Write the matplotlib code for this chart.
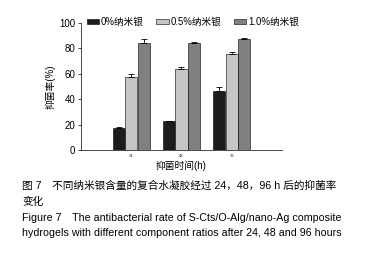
import numpy as np
import matplotlib.pyplot as plt

plt.rcParams['font.family'] = ['Liberation Sans', 'Noto Sans CJK SC', 'DejaVu Sans']

# data
times = ['24', '48', '96']
groups = ['0%纳米银', '0.5%纳米银', '1.0%纳米银']
rate_0 = [17.5, 22.5, 46.7]
rate_05 = [57.5, 63.5, 75.3]
rate_10 = [84.0, 84.5, 87.4]
err_0 = [0.5, 0.5, 2.7]
err_05 = [2.7, 2.0, 1.5]
err_10 = [3.0, 0.5, 0.5]
colors = ['#1c1c1c', '#c6c6c6', '#808080']

fig = plt.figure(figsize=(3.7, 2.61), dpi=100)
ax = fig.add_axes([0.219, 0.425, 0.543, 0.487])

x = np.arange(len(times))
w = 0.24
vals = [rate_0, rate_05, rate_10]
errs = [err_0, err_05, err_10]
for i in range(3):
    ax.bar(x + (i - 1) * 0.25, vals[i], w, color=colors[i], edgecolor='black',
           linewidth=0.4, label=groups[i],
           yerr=[np.zeros(3), errs[i]], capsize=2,
           error_kw=dict(elinewidth=0.6, capthick=0.6, ecolor='black'))

ax.set_xlim(-1, 3)
ax.set_ylim(0, 100)
ax.set_yticks([0, 20, 40, 60, 80, 100])
ax.set_xticks(x)
ax.set_xticklabels(times, fontsize=3, color='#333333')
ax.tick_params(axis='x', length=0, pad=3)
ax.tick_params(axis='y', labelsize=7, length=2, width=0.5, pad=2)
for s in ['top', 'right']:
    ax.spines[s].set_visible(False)
for s in ['left', 'bottom']:
    ax.spines[s].set_linewidth(0.5)
ax.set_ylabel('抑菌率(%)', fontsize=7, labelpad=3)
ax.set_xlabel('抑菌时间(h)', fontsize=7, labelpad=2)

fig.legend(loc='center', bbox_to_anchor=(193 / 370, 1 - 22 / 261), ncol=3,
           frameon=False, fontsize=6.9, handlelength=1.3, handleheight=0.5,
           handletextpad=0.2, columnspacing=1.3, borderaxespad=0)

cap = ['图 7　不同纳米银含量的复合水凝胶经过 24，48，96 h 后的抑菌率',
       '变化',
       'Figure 7　The antibacterial rate of S-Cts/O-Alg/nano-Ag composite',
       'hydrogels with different component ratios after 24, 48 and 96 hours']
ys = [186, 202, 218, 233]
for t, yy in zip(cap, ys):
    fig.text(22 / 370, 1 - yy / 261, t, fontsize=7.65, va='center', ha='left')

fig.savefig('out.png', dpi=100)
